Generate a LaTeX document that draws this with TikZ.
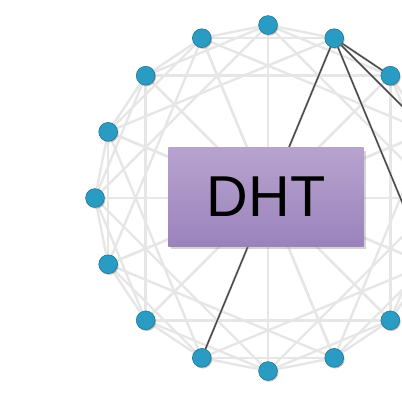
\documentclass[tikz,border=0pt]{standalone}
\usepackage{fontspec}
\setsansfont{Liberation Sans}
\usetikzlibrary{backgrounds,shadows}

\definecolor{knotenblau}{HTML}{2A9BC2}
\definecolor{sehnengrau}{HTML}{E6E6E6}
\definecolor{fingergrau}{HTML}{4A4A4A}
\definecolor{kastenoben}{HTML}{B7A3CF}
\definecolor{kastenunten}{HTML}{9A83BB}

\begin{document}
\begin{tikzpicture}[x=0.025cm, y=-0.025cm, line cap=round, line join=round,
  knoten/.style={circle, fill=knotenblau, draw=knotenblau!75!black, line width=0.4pt,
    minimum size=0.47cm, inner sep=0pt,
    drop shadow={opacity=0.5, shadow xshift=0.7pt, shadow yshift=-0.9pt}},
  sehne/.style={sehnengrau, line width=1.7pt},
  finger/.style={fingergrau, line width=1.1pt},
  dhtkasten/.style={rectangle, top color=kastenoben, bottom color=kastenunten,
    minimum width=4.875cm, minimum height=2.45cm, inner sep=0pt,
    font=\sffamily\fontsize{41}{41}\selectfont,
    drop shadow={opacity=0.35, shadow xshift=1.5pt, shadow yshift=-2pt}}]

  % Bildausschnitt festlegen
  \useasboundingbox (0,0) rectangle (402,409);

  % Die 16 Knoten auf dem Ring
  \foreach \k in {0,...,15} {
    \node[knoten] (n\k) at ({268+173*cos(90-22.5*\k)},{198-173*sin(90-22.5*\k)}) {};
  }

  % Sehnen: jeder Knoten zu k+1, k+2, k+4, k+8
  \begin{scope}[on background layer]
    \foreach \k in {0,...,15} {
      \foreach \d in {1,2,4,8} {
        \pgfmathtruncatemacro\z{mod(\k+\d,16)}
        \draw[sehne] (n\k) -- (n\z);
      }
    }
    % Fingertabelle von Knoten 1 hervorgehoben
    \foreach \z in {2,3,5,9} {
      \draw[finger] (n1.center) -- (n\z.center);
    }
  \end{scope}

  % Kasten in der Mitte
  \node[dhtkasten] (dht) at (266,197) {DHT};

\end{tikzpicture}
\end{document}
